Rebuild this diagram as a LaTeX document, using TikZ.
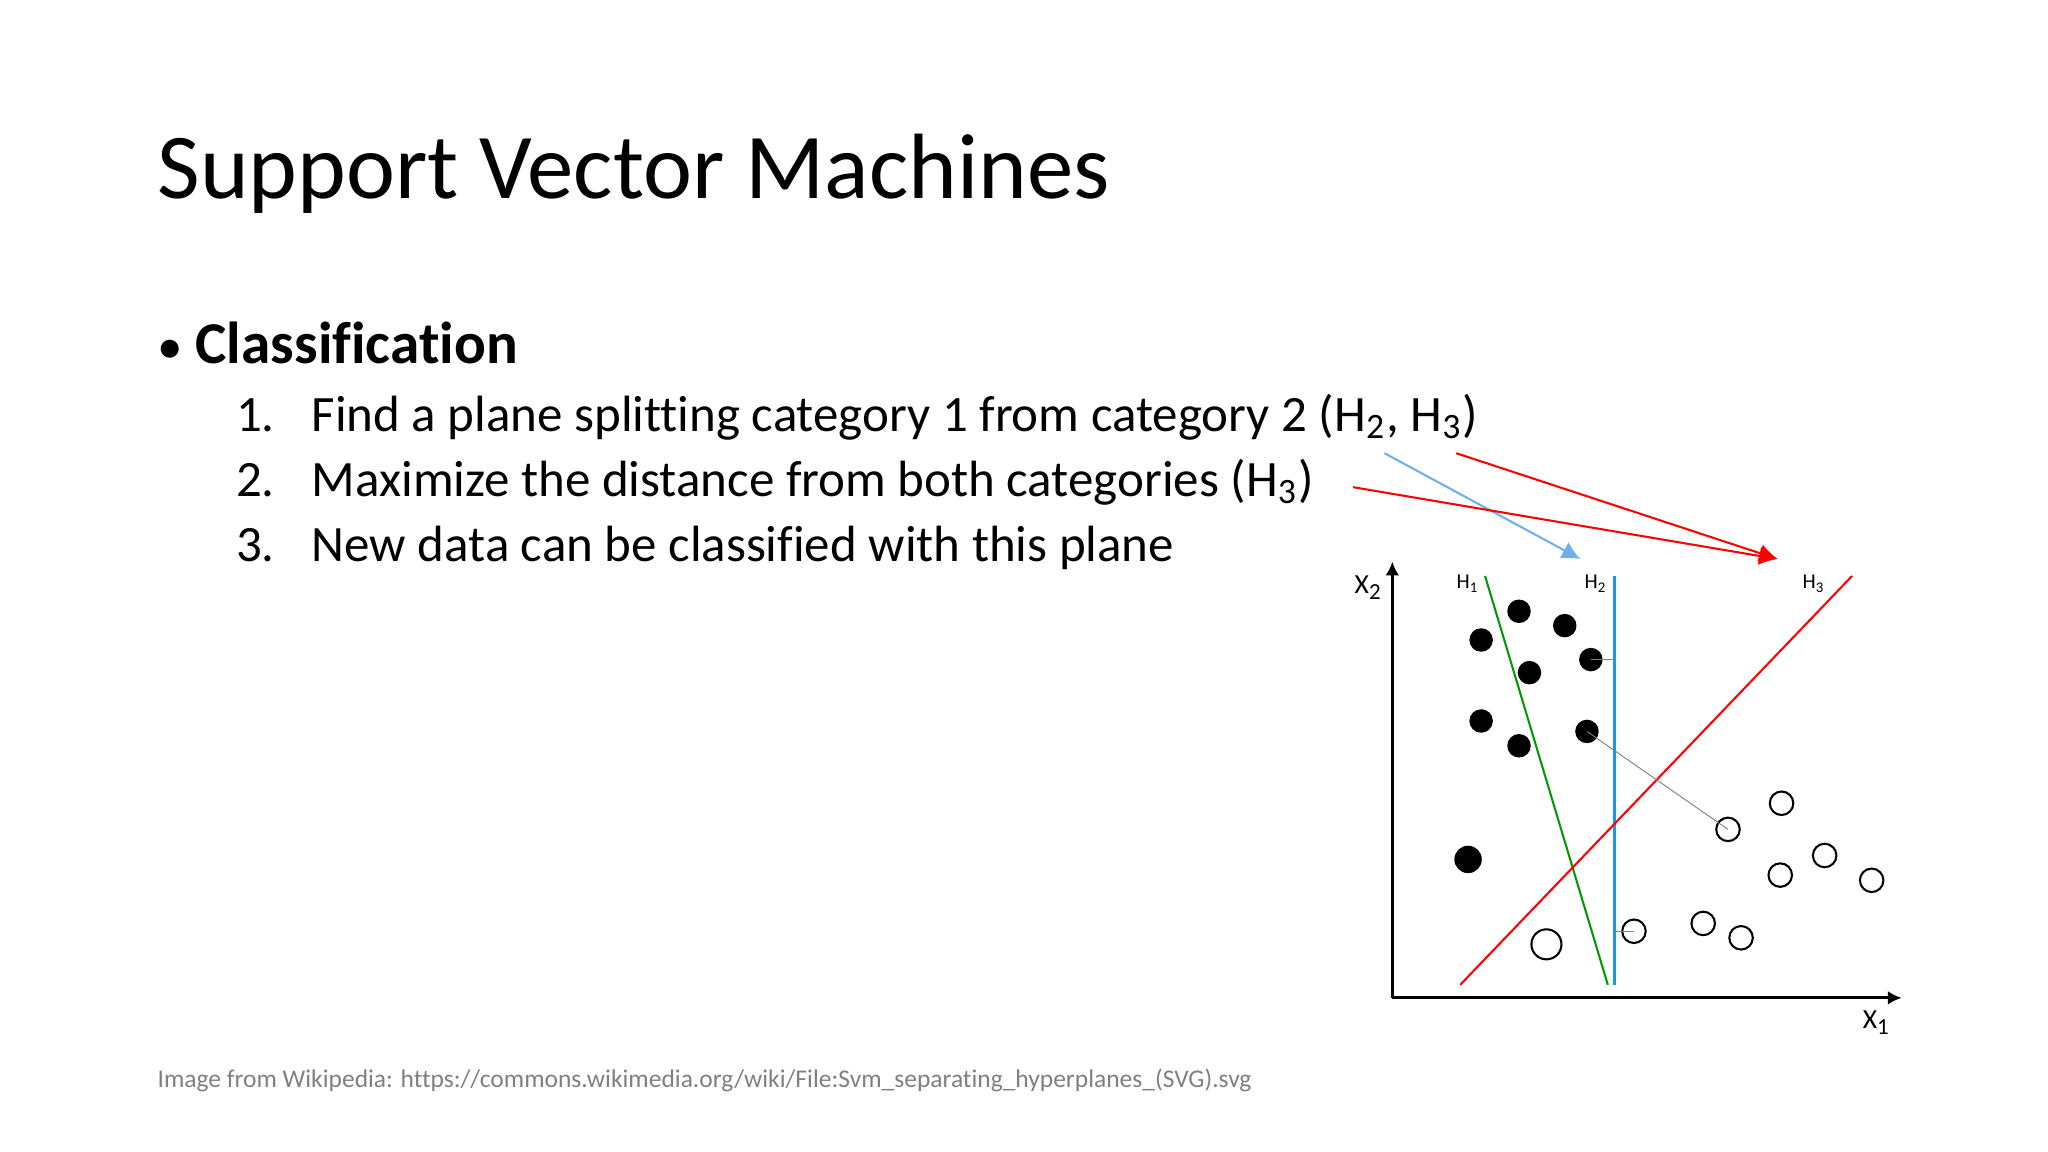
\documentclass[tikz,border=0pt]{standalone}
\usepackage{fontspec}
\setmainfont[Ligatures=CommonOff]{Carlito}
\usetikzlibrary{arrows.meta}
\definecolor{hblue}{RGB}{30,150,230}
\definecolor{ablue}{RGB}{110,175,240}
\begin{document}
\begin{tikzpicture}[x=0.01cm,y=-0.01cm,
  txt/.style={anchor=base west,inner sep=0,font=\fontsize{11.1}{12}\selectfont},
  lbl/.style={inner sep=0,font=\fontsize{4.6}{5}\selectfont},
  full/.style={fill=black,draw=none},
  hollow/.style={draw=black,line width=0.45pt,fill=none},
  conn/.style={line width=0.45pt,-{Latex[length=4pt,width=4pt]}},
  thin/.style={draw=gray,line width=0.2pt}]
\useasboundingbox (0,0) rectangle (1568,882);
\node[txt,font=\fontsize{20.2}{22}\selectfont] (title) at (120,152) {Support Vector Machines};
\node[txt] (bul) at (120,278) {•};
\node[txt,font=\fontsize{12.9}{14}\bfseries] (cls) at (149,278) {Classification};
\node[txt] (n1) at (180,330) {1.};
\node[txt] (t1) at (238,330) {Find a plane splitting category 1 from category 2 (H\textsubscript{2}, H\textsubscript{3})};
\node[txt] (n2) at (180,380) {2.};
\node[txt] (t2) at (238,380) {Maximize the distance from both categories (H\textsubscript{3})};
\node[txt] (n3) at (180,430) {3.};
\node[txt] (t3) at (238,430) {New data can be classified with this plane};
\node[txt,text=gray,font=\fontsize{5.55}{6}\selectfont] (foot) at (120,833) {Image from Wikipedia: https://commons.wikimedia.org/wiki/File:Svm\_separating\_hyperplanes\_(SVG).svg};
% axes
\coordinate (O) at (1066,764);
\coordinate (ytop) at (1066,430);
\coordinate (xend) at (1456,764);
\draw[line width=0.6pt,-{Latex[length=3pt,width=3pt]}] (O) -- (ytop);
\draw[line width=0.6pt,-{Latex[length=3pt,width=3pt]}] (O) -- (xend);
\node[lbl,font=\fontsize{6}{7}\selectfont] (x2) at (1048,450) {X\textsubscript{2}};
\node[lbl,font=\fontsize{6}{7}\selectfont] (x1) at (1437,783) {X\textsubscript{1}};
\node[lbl] (h1) at (1124,447) {H\textsubscript{1}};
\node[lbl] (h2) at (1222,447) {H\textsubscript{2}};
\node[lbl] (h3) at (1389,447) {H\textsubscript{3}};
% hyperplanes
\coordinate (g1) at (1137,441); \coordinate (g2) at (1231,754);
\coordinate (b1) at (1236,441); \coordinate (b2) at (1236,754);
\coordinate (r1) at (1418,441); \coordinate (r2) at (1118,754);
\draw[green!60!black,line width=0.45pt] (g1) -- (g2);
\draw[hblue,line width=0.6pt] (b1) -- (b2);
\draw[red,line width=0.45pt] (r1) -- (r2);
% points
\foreach \n/\x/\y in {f1/1163/468,f2/1198/479,f3/1134/490,f4/1218/505,f5/1171/515,f6/1134/552,f7/1163/571,f8/1215/560}
  \fill[full] (\x,\y) circle (9) coordinate (\n);
\fill[full] (1124,658) circle (10.5) coordinate (f9);
\foreach \n/\x/\y in {o1/1364/615,o2/1323/635,o3/1397/655,o4/1363/670,o5/1433/674,o6/1251/713,o7/1304/707,o8/1333/718}
  \draw[hollow] (\x,\y) circle (9) coordinate (\n);
\draw[hollow] (1184,723) circle (11.5) coordinate (o9);
\coordinate (t4) at (1236,505); \coordinate (t6) at (1236,713);
\draw[thin] (f8) -- (o2);
\draw[thin] (f4) -- (t4);
\draw[thin] (t6) -- (o6);
% arrows
\coordinate (a1s) at (1060,347); \coordinate (a1e) at (1210,428);
\coordinate (a2s) at (1115,347); \coordinate (a3s) at (1036,373); \coordinate (a2e) at (1361,428);
\draw[conn,ablue] (a1s) -- (a1e);
\draw[conn,red] (a2s) -- (a2e);
\draw[conn,red] (a3s) -- (a2e);
\end{tikzpicture}
\end{document}
